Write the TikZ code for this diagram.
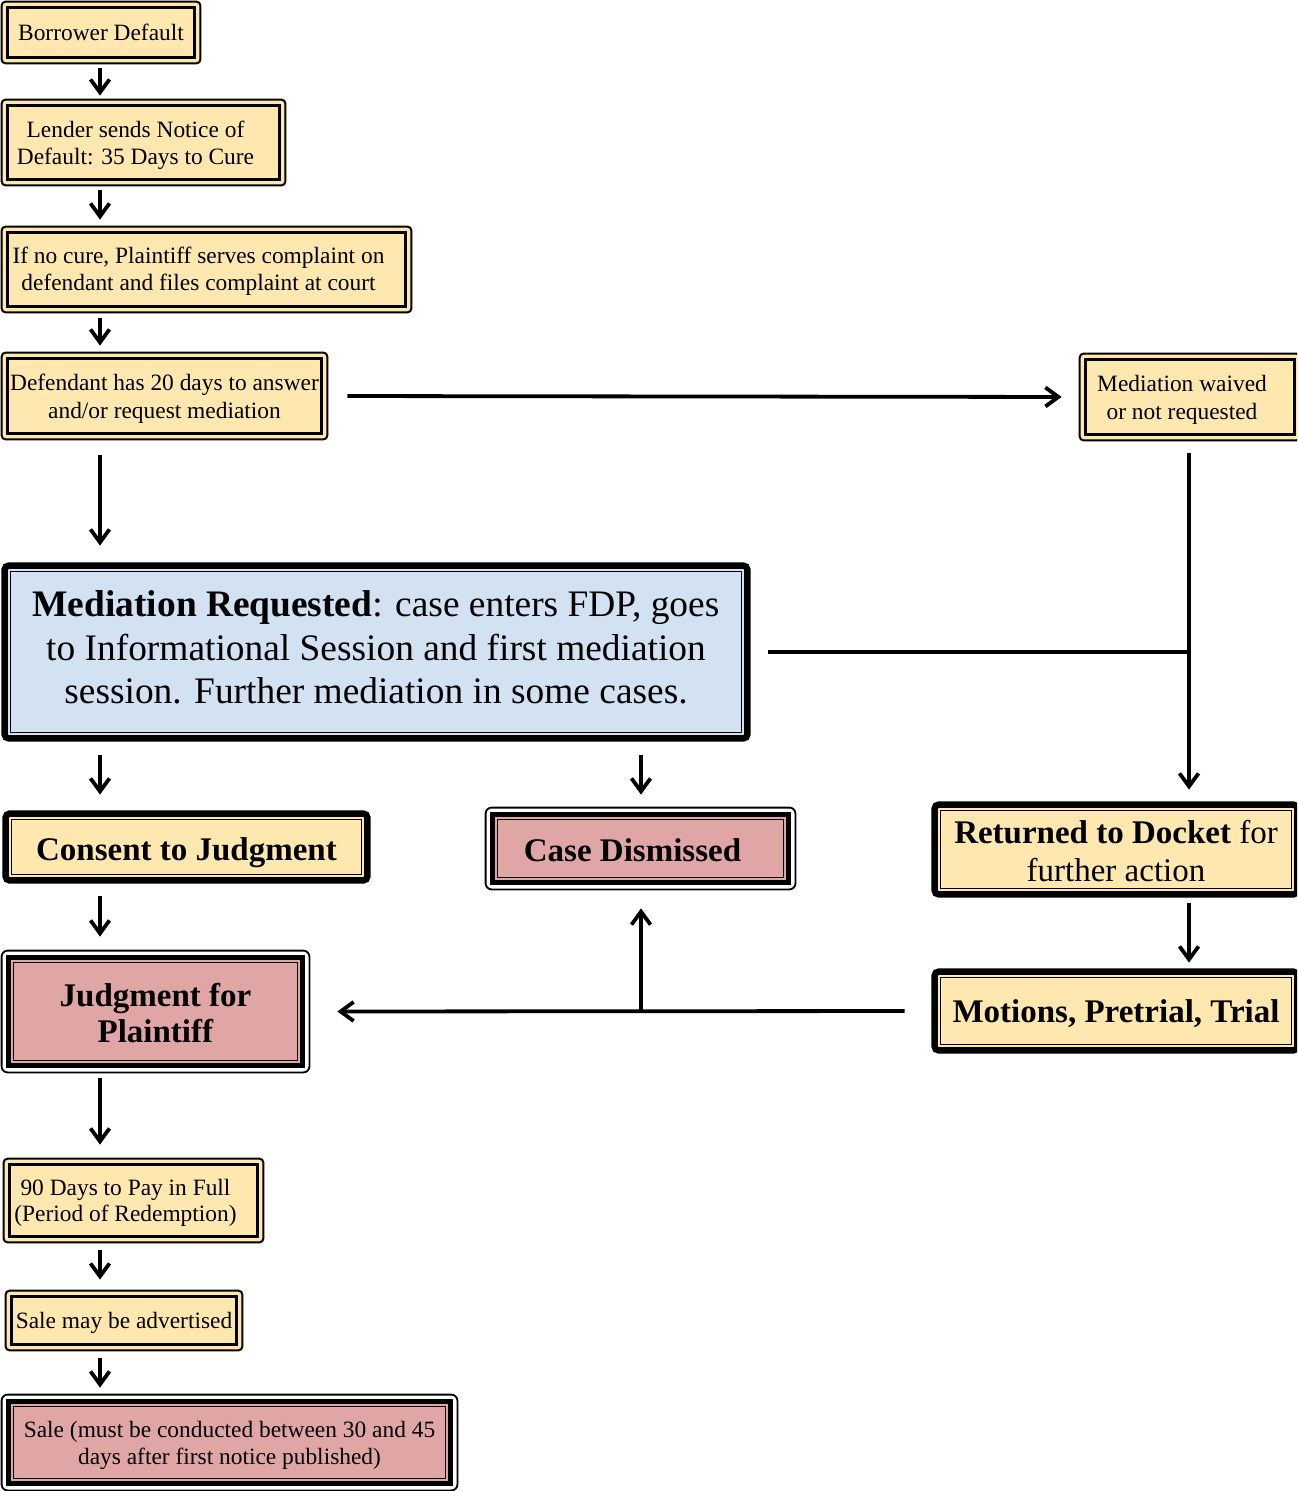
\documentclass[tikz,border=0pt]{standalone}
\usepackage{fontspec}
\setmainfont{Liberation Serif}
\usetikzlibrary{arrows.meta,backgrounds}
\definecolor{cream}{HTML}{FFE8B0}
\definecolor{lblue}{HTML}{D2E2F3}
\definecolor{lpink}{HTML}{E0A6A6}
\tikzset{
  box/.style={inner sep=0pt, align=center},
  fsmall/.style={font=\fontsize{11.7}{13.8}\selectfont},
  fbig/.style={font=\fontsize{16.5}{19}\selectfont},
  arr/.style={line width=1.9pt, -{Straight Barb[length=6.5pt,width=9.5pt]}},
  conn/.style={line width=1.9pt},
}
\newcommand\pad{\rule{8pt}{0pt}}
% shifted text block: #1 vertical shift, #2 lines
\newcommand\tx[2]{\raisebox{#1}[\height][\depth]{\begin{tabular}{@{}c@{}}#2\end{tabular}}}
% thin outer, thick inner
\newcommand\frameA[2]{%
  \begin{scope}[on background layer]
    \fill[#2,rounded corners=2pt] (#1.north west) rectangle (#1.south east);
  \end{scope}
  \draw[line width=1pt,rounded corners=2pt] (#1.north west) rectangle (#1.south east);
  \draw[line width=1.7pt] ([shift={(6,6)}]#1.north west) rectangle ([shift={(-6,-6)}]#1.south east);
}
% thick outer, thin inner
\newcommand\frameB[2]{%
  \begin{scope}[on background layer]
    \fill[#2] ([shift={(3,3)}]#1.north west) rectangle ([shift={(-3,-3)}]#1.south east);
  \end{scope}
  \draw[line width=3.2pt,rounded corners=2pt] ([shift={(3,3)}]#1.north west) rectangle ([shift={(-3,-3)}]#1.south east);
  \draw[line width=0.6pt] ([shift={(9,9)}]#1.north west) rectangle ([shift={(-9,-9)}]#1.south east);
}
% thin outer, thick middle, thin inner
\newcommand\frameC[2]{%
  \begin{scope}[on background layer]
    \fill[#2] ([shift={(7,7)}]#1.north west) rectangle ([shift={(-7,-7)}]#1.south east);
  \end{scope}
  \draw[line width=0.9pt,rounded corners=3pt] (#1.north west) rectangle (#1.south east);
  \draw[line width=2.5pt] ([shift={(7,7)}]#1.north west) rectangle ([shift={(-7,-7)}]#1.south east);
  \draw[line width=0.8pt] ([shift={(12,12)}]#1.north west) rectangle ([shift={(-12,-12)}]#1.south east);
}
\begin{document}
\begin{tikzpicture}[x=0.5pt,y=-0.5pt]
\clip (0,0) rectangle (1297,1491);

\node[box,fsmall,minimum width=99pt,minimum height=30.5pt] (b1) at (101,32.5) {Borrower Default};
\frameA{b1}{cream}
\node[box,fsmall,minimum width=141.5pt,minimum height=42.5pt] (b2) at (143.5,142.5) {\tx{-1.5pt}{Lender sends Notice of\pad\\Default: 35 Days to Cure\pad}};
\frameA{b2}{cream}
\node[box,fsmall,minimum width=204.5pt,minimum height=42.5pt] (b3) at (206.5,269.5) {\tx{-1pt}{If no cure, Plaintiff serves complaint on\pad\\defendant and files complaint at court\pad}};
\frameA{b3}{cream}
\node[box,fsmall,minimum width=162.5pt,minimum height=43pt] (b4) at (164.5,396) {\tx{-1.6pt}{Defendant has 20 days to answer\\and/or request mediation}};
\frameA{b4}{cream}
\node[box,fsmall,minimum width=110pt,minimum height=43pt] (b5) at (1190,397) {\tx{-1.5pt}{Mediation waived\pad\\or not requested\pad}};
\frameA{b5}{cream}

\node[box,font=\fontsize{18.7}{21.8}\selectfont,minimum width=374pt,minimum height=89pt] (b6) at (376,652) {\tx{0.3pt}{\textbf{Mediation Requested}: case enters FDP, goes\\to Informational Session and first mediation\\session. Further mediation in some cases.}};
\frameB{b6}{lblue}

\node[box,fbig,minimum width=183.5pt,minimum height=36pt] (b7) at (186.5,847) {\tx{-3pt}{\textbf{Consent to Judgment}}};
\frameB{b7}{cream}
\node[box,fbig,minimum width=154.5pt,minimum height=40.5pt] (b8) at (640.5,848.5) {\tx{-2.8pt}{\textbf{Case Dismissed}\pad}};
\frameC{b8}{lpink}
\node[box,fbig,minimum width=184pt,minimum height=47.5pt] (b9) at (1116,849.5) {\tx{-2.8pt}{\textbf{Returned to Docket} for\\further action}};
\frameB{b9}{cream}
\node[box,fbig,minimum width=184pt,minimum height=42pt] (b10) at (1116,1011) {\tx{-2pt}{\textbf{Motions, Pretrial, Trial}}};
\frameB{b10}{cream}
\node[box,font=\fontsize{16.5}{17.8}\selectfont,minimum width=153.5pt,minimum height=60.5pt] (b11) at (155.5,1011.5) {\tx{-2.8pt}{\textbf{Judgment for}\\\textbf{Plaintiff}}};
\frameC{b11}{lpink}

\node[box,font=\fontsize{11.7}{13.2}\selectfont,minimum width=129.5pt,minimum height=41.5pt] (b12) at (133.5,1200.5) {\tx{-1.5pt}{90 Days to Pay in Full\pad\\(Period of Redemption)\pad}};
\frameA{b12}{cream}
\node[box,fsmall,minimum width=118pt,minimum height=29.5pt] (b13) at (124,1320.5) {\tx{-1pt}{Sale may be advertised}};
\frameA{b13}{cream}
\node[box,fsmall,minimum width=227.5pt,minimum height=47.5pt] (b14) at (229.5,1442.5) {\tx{-1.5pt}{Sale (must be conducted between 30 and 45\\days after first notice published)}};
\frameC{b14}{lpink}

\coordinate (L) at (100,0);
\coordinate (R) at (1189,0);
\coordinate (M) at (641,0);

\draw[arr, shorten <=2.5pt, shorten >=2pt] (b1.south -| L) -- (b2.north -| L);
\draw[arr, shorten <=2.5pt, shorten >=3.5pt] (b2.south -| L) -- (b3.north -| L);
\draw[arr, shorten <=3pt, shorten >=3.5pt] (b3.south -| L) -- (b4.north -| L);
\draw[arr, shorten <=8pt, shorten >=8.5pt] (b4.south -| L) -- (b6.north -| L);
\draw[arr, shorten <=10pt, shorten >=9pt] (b4.east) -- (b5.west);
\draw[arr, shorten <=6.5pt, shorten >=6pt] (b5.south -| R) -- (b9.north -| R);
\coordinate (J) at (b6.east -| R);
\draw[conn, shorten <=9pt] (b6.east) -- (J);
\draw[arr, shorten <=7pt, shorten >=8pt] (b6.south -| L) -- (b7.north -| L);
\draw[arr, shorten <=7pt, shorten >=6.5pt] (b6.south -| M) -- (b8.north -| M);
\draw[arr, shorten <=6.5pt, shorten >=7pt] (b7.south -| L) -- (b11.north -| L);
\draw[arr, shorten <=3pt, shorten >=3pt] (b9.south -| R) -- (b10.north -| R);
\draw[arr, shorten <=13.5pt, shorten >=14pt] (b10.west) -- (b11.east);
\coordinate (K) at (b10.west -| M);
\draw[arr, shorten >=9.5pt] (K) -- (b8.south -| M);
\draw[arr, shorten <=3pt, shorten >=7pt] (b11.south -| L) -- (b12.north -| L);
\draw[arr, shorten <=4pt, shorten >=5.5pt] (b12.south -| L) -- (b13.north -| L);
\draw[arr, shorten <=4pt, shorten >=3.5pt] (b13.south -| L) -- (b14.north -| L);
\end{tikzpicture}
\end{document}
